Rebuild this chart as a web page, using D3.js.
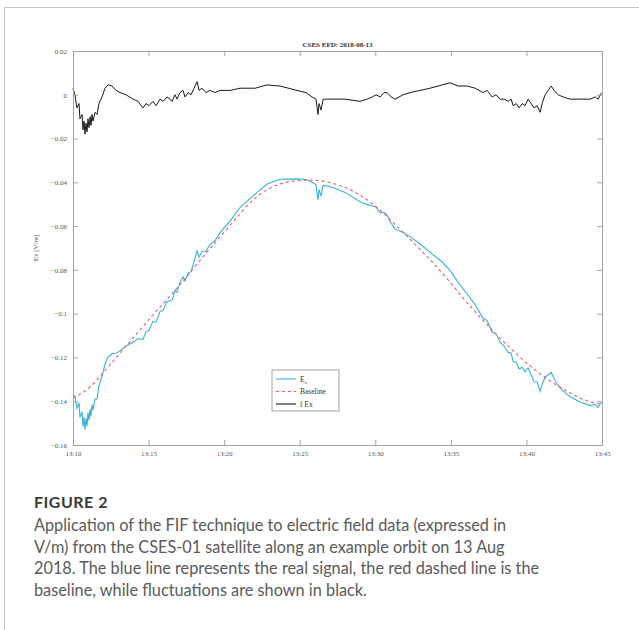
<!DOCTYPE html>
<html>
<head>
<meta charset="utf-8">
<script src="https://cdn.jsdelivr.net/npm/d3@7"></script>
<style>
  body { margin: 0; background: #fff; }
  svg { display: block; }
</style>
</head>
<body>
<div class="container"></div>
<script>
var W = 639, H = 630;
var PLOT = { left: 73, top: 51, right: 602, bottom: 445 };

// time in minutes after 13:10, Ex / fluctuation values in V/m
var minutes = [0.0,0.13,0.26,0.40,0.46,0.60,0.66,0.73,0.79,0.86,0.93,0.99,1.06,1.13,1.19,1.26,1.32,1.46,1.59,1.72,
  1.92,2.12,2.32,2.58,2.85,3.11,3.51,3.97,4.30,4.63,4.83,5.03,5.29,5.49,5.76,5.96,6.22,6.42,6.55,6.75,
  6.88,7.08,7.28,7.41,7.61,7.81,8.01,8.21,8.34,8.54,8.80,9.07,9.40,9.73,10.39,11.05,12.05,12.84,13.70,14.82,
  15.42,15.82,16.08,16.21,16.28,16.41,16.55,17.01,18.00,18.99,19.46,19.79,20.05,20.32,20.58,20.78,21.05,21.31,21.84,22.30,
  22.97,23.63,24.42,24.95,25.48,26.08,26.61,27.13,27.40,27.73,27.99,28.26,28.52,28.79,28.99,29.12,29.32,29.52,29.72,29.91,
  30.11,30.31,30.51,30.71,30.91,31.04,31.24,31.44,31.64,31.83,32.10,32.43,32.89,33.55,34.22,34.55,34.75,34.88,35.0];

var exValues = [-0.1370,-0.1379,-0.1433,-0.1407,-0.1474,-0.1448,-0.1516,-0.1473,-0.1530,-0.1477,-0.1514,-0.1451,-0.1488,-0.1435,-0.1470,-0.1415,-0.1440,-0.1390,-0.1390,-0.1330,
  -0.1285,-0.1230,-0.1198,-0.1183,-0.1181,-0.1170,-0.1148,-0.1131,-0.1114,-0.1118,-0.1082,-0.1076,-0.1035,-0.1040,-0.0990,-0.0985,-0.0945,-0.0940,-0.0939,-0.0893,
  -0.0902,-0.0857,-0.0831,-0.0851,-0.0814,-0.0808,-0.0761,-0.0714,-0.0742,-0.0716,-0.0714,-0.0683,-0.0666,-0.0630,-0.0577,-0.0515,-0.0454,-0.0408,-0.0386,-0.0384,
  -0.0387,-0.0400,-0.0411,-0.0481,-0.0432,-0.0463,-0.0414,-0.0419,-0.0446,-0.0489,-0.0502,-0.0507,-0.0513,-0.0540,-0.0537,-0.0550,-0.0587,-0.0614,-0.0629,-0.0649,
  -0.0682,-0.0720,-0.0764,-0.0802,-0.0857,-0.0910,-0.0960,-0.1021,-0.1032,-0.1084,-0.1092,-0.1130,-0.1148,-0.1177,-0.1180,-0.1220,-0.1222,-0.1253,-0.1245,-0.1266,
  -0.1248,-0.1279,-0.1311,-0.1312,-0.1355,-0.1321,-0.1290,-0.1279,-0.1268,-0.1297,-0.1328,-0.1353,-0.1380,-0.1404,-0.1420,-0.1414,-0.1429,-0.1412,-0.1405];

var fluctValues = [0.003,0.000,-0.006,-0.004,-0.011,-0.009,-0.016,-0.012,-0.018,-0.013,-0.017,-0.011,-0.015,-0.010,-0.014,-0.009,-0.012,-0.008,-0.009,-0.004,
  -0.001,0.003,0.0046,0.004,0.002,0.001,0.000,-0.002,-0.003,-0.006,-0.004,-0.005,-0.003,-0.005,-0.002,-0.003,-0.001,-0.002,-0.003,0.000,
  -0.002,0.001,0.002,-0.001,0.001,0.000,0.003,0.006,0.002,0.003,0.001,0.002,0.001,0.002,0.002,0.003,0.003,0.0045,0.004,0.002,
  0.001,-0.001,-0.002,-0.009,-0.004,-0.007,-0.002,-0.002,-0.002,-0.003,-0.002,-0.001,0.000,-0.001,0.001,0.001,-0.001,-0.002,0.000,0.001,
  0.002,0.003,0.0045,0.0055,0.004,0.004,0.003,0.001,0.002,-0.001,0.000,-0.002,-0.002,-0.003,-0.002,-0.005,-0.004,-0.006,-0.004,-0.005,
  -0.002,-0.004,-0.006,-0.005,-0.008,-0.004,0.000,0.002,0.004,0.002,0.000,-0.001,-0.002,-0.002,-0.002,-0.001,-0.002,0.000,0.001];

var baseMinutes = [0.0,1.13,2.12,3.11,4.24,5.29,6.42,7.54,8.60,9.73,10.85,11.91,13.23,14.56,15.88,17.21,18.53,19.85,21.64,23.16,
  24.75,26.08,27.60,29.12,30.91,32.70,33.89,35.0];
var baseValues = [-0.1385,-0.1335,-0.1260,-0.1180,-0.1090,-0.1005,-0.0920,-0.0830,-0.0740,-0.0650,-0.0560,-0.0480,-0.0420,-0.0395,-0.0390,-0.0405,-0.0440,-0.0500,-0.0615,-0.0720,
  -0.0840,-0.0950,-0.1065,-0.1170,-0.1275,-0.1355,-0.1395,-0.1415];

var yTicks = [0.02,0,-0.02,-0.04,-0.06,-0.08,-0.1,-0.12,-0.14,-0.16];
var xTickMinutes = [0,5,10,15,20,25,30,35];
var legendLabels = ["E", "Baseline", "f Ex"];
var captionTitle = "FIGURE 2";
var captionLines = [
  "Application of the FIF technique to electric field data (expressed in",
  "V/m) from the CSES-01 satellite along an example orbit on 13 Aug",
  "2018. The blue line represents the real signal, the red dashed line is the",
  "baseline, while fluctuations are shown in black."
];

var START = new Date(2018, 7, 13, 13, 10, 0);
var toDate = function(m){ return new Date(START.getTime() + m * 60000); };

var svg = d3.select(".container").append("svg").attr("width", W).attr("height", H);

// page frame
svg.append("line").attr("x1", 4).attr("y1", 7.5).attr("x2", W).attr("y2", 7.5)
  .attr("stroke", "#c8c8c8").attr("stroke-width", 1);
svg.append("line").attr("x1", 4.5).attr("y1", 7).attr("x2", 4.5).attr("y2", H)
  .attr("stroke", "#c8c8c8").attr("stroke-width", 1);

var x = d3.scaleTime().domain([toDate(0), toDate(35)]).range([PLOT.left, PLOT.right]);
var y = d3.scaleLinear().domain([-0.16, 0.02]).range([PLOT.bottom, PLOT.top]);

var g = svg.append("g");
var axisFont = "'Liberation Serif', 'DejaVu Serif', serif";

var line = function(xs, ys){
  return d3.line()
    .x(function(d, i){ return x(toDate(xs[i])); })
    .y(function(d){ return y(d); })(ys);
};

// series
g.append("path").attr("d", line(minutes, exValues))
  .attr("fill", "none").attr("stroke", "#35b2de").attr("stroke-width", 1.1);
g.append("path").attr("d", d3.line().curve(d3.curveMonotoneX)
    .x(function(d, i){ return x(toDate(baseMinutes[i])); })
    .y(function(d){ return y(d); })(baseValues))
  .attr("fill", "none").attr("stroke", "#ec5a62").attr("stroke-width", 1.1)
  .attr("stroke-dasharray", "3,3");
g.append("path").attr("d", line(minutes, fluctValues))
  .attr("fill", "none").attr("stroke", "#1a1a1a").attr("stroke-width", 1);

// axes (ticks inward, mirrored)
var tickFmt = d3.timeFormat("%H:%M");
var xTicks = xTickMinutes.map(toDate);
var axisB = d3.axisBottom(x).tickValues(xTicks).tickFormat(tickFmt).tickSizeInner(-5).tickSizeOuter(0).tickPadding(6);
var axisT = d3.axisTop(x).tickValues(xTicks).tickFormat("").tickSizeInner(-5).tickSizeOuter(0);
var axisL = d3.axisLeft(y).tickValues(yTicks).tickFormat(function(d){ return d === 0 ? "0" : d3.format("")(+d.toFixed(2)); })
  .tickSizeInner(-5).tickSizeOuter(0).tickPadding(6);
var axisR = d3.axisRight(y).tickValues(yTicks).tickFormat("").tickSizeInner(-5).tickSizeOuter(0);

var styleAxis = function(sel){
  sel.selectAll("path").attr("stroke", "#9a9a9a").attr("stroke-width", 0.9);
  sel.selectAll("line").attr("stroke", "#9a9a9a").attr("stroke-width", 0.9);
  sel.selectAll("text").attr("fill", "#555").style("font-family", axisFont).style("font-size", "7px");
};
styleAxis(g.append("g").attr("transform", "translate(0," + PLOT.bottom + ")").call(axisB));
styleAxis(g.append("g").attr("transform", "translate(0," + PLOT.top + ")").call(axisT));
styleAxis(g.append("g").attr("transform", "translate(" + PLOT.left + ",0)").call(axisL));
styleAxis(g.append("g").attr("transform", "translate(" + PLOT.right + ",0)").call(axisR));

// title and y label
g.append("text").attr("x", (PLOT.left + PLOT.right) / 2).attr("y", PLOT.top - 4)
  .attr("text-anchor", "middle").style("font-family", axisFont).style("font-size", "7px")
  .style("font-weight", "bold").attr("fill", "#333").text("CSES EFD: 2018-08-13");
g.append("text").attr("transform", "translate(38," + ((PLOT.top + PLOT.bottom) / 2) + ") rotate(-90)")
  .attr("text-anchor", "middle").style("font-family", axisFont).style("font-size", "7px")
  .attr("fill", "#555").text("Ex [V/m]");

// legend
var lg = g.append("g").attr("transform", "translate(272,370)");
lg.append("rect").attr("width", 67).attr("height", 41).attr("fill", "#fff")
  .attr("stroke", "#9a9a9a").attr("stroke-width", 0.9);
var legendStyles = [
  { stroke: "#35b2de", dash: null },
  { stroke: "#ec5a62", dash: "3,3" },
  { stroke: "#1a1a1a", dash: null }
];
legendLabels.forEach(function(label, i){
  var yy = 9 + i * 12.5;
  lg.append("line").attr("x1", 4).attr("x2", 24).attr("y1", yy).attr("y2", yy)
    .attr("stroke", legendStyles[i].stroke).attr("stroke-width", 1.1)
    .attr("stroke-dasharray", legendStyles[i].dash);
  var t = lg.append("text").attr("x", 28).attr("y", yy + 2.5)
    .style("font-family", axisFont).style("font-size", "7.5px").attr("fill", "#333").text(label);
  if (i === 0) t.append("tspan").attr("dy", 2).style("font-size", "5px").text("x");
});

// caption
var cap = svg.append("g").style("font-family", "Lato, 'Open Sans', sans-serif");
cap.append("text").attr("x", 34).attr("y", 508).style("font-size", "16px").style("font-weight", "bold")
  .attr("fill", "#3a3a3a").style("letter-spacing", "0.5px").text(captionTitle);
captionLines.forEach(function(s, i){
  cap.append("text").attr("x", 34).attr("y", 531 + i * 21.7).style("font-size", "16.3px")
    .attr("fill", "#5a5a5a").text(s);
});
</script>
</body>
</html>
